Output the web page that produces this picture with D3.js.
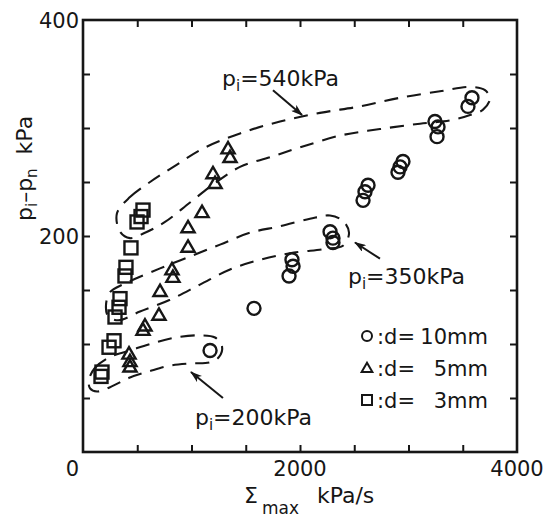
<!DOCTYPE html>
<html>
<head>
<meta charset="utf-8">
<script src="https://cdn.jsdelivr.net/npm/d3@7"></script>
<style>
  body { margin: 0; background: #fff; }
  text { font-family: "DejaVu Sans", sans-serif; fill: #161616; }
</style>
</head>
<body>
<div id="chart"></div>
<script>
// points: [Sigma_max kPa/s, pi-pn kPa]
var circles10 = [[1171, 94], [1576, 133], [1926, 178], [1936, 172], [1899, 163],
  [2277, 204], [2304, 198], [2304, 194], [2627, 247], [2599, 241], [2581, 233],
  [2949, 269], [2922, 264], [2903, 259], [3244, 306], [3272, 301], [3263, 292],
  [3585, 328], [3548, 320]];
var triangles5 = [[1337, 280], [1355, 272], [1198, 257], [1217, 248], [1097, 221],
  [968, 207], [968, 189], [820, 168], [829, 161], [710, 148], [700, 126],
  [571, 116], [553, 112], [424, 90], [433, 83], [433, 78]];
var squares3 = [[553, 224], [535, 218], [498, 213], [442, 189], [396, 171],
  [387, 163], [341, 142], [332, 134], [295, 125], [286, 103], [240, 97],
  [175, 74], [166, 70]];

// dashed envelopes (closed loops)
var env540 = [[313, 221], [433, 236], [618, 250], [848, 265], [1106, 281], [1447, 295],
  [1816, 306], [2184, 314], [2553, 320], [2922, 328], [3290, 334], [3567, 338],
  [3705, 335], [3751, 327], [3687, 317], [3567, 312], [3383, 307], [3106, 304],
  [2737, 299], [2369, 293], [2000, 282], [1724, 273], [1447, 264], [1217, 249],
  [986, 231], [756, 213], [571, 203], [433, 198], [341, 204]];
var env350 = [[212, 136], [249, 148], [387, 156], [710, 170], [986, 181], [1263, 192],
  [1539, 203], [1816, 209], [2092, 216], [2277, 219], [2396, 214], [2452, 203],
  [2396, 191], [2230, 188], [1908, 184], [1631, 178], [1355, 169], [1078, 155],
  [802, 141], [525, 130], [323, 122], [230, 126]];
var env200 = [[55, 67], [111, 78], [249, 88], [433, 94], [618, 100], [848, 106],
  [1078, 108], [1217, 106], [1281, 98], [1254, 88], [1171, 83], [986, 82],
  [802, 80], [618, 75], [433, 69], [249, 60], [129, 56], [65, 59]];

// labels with arrows: text position, arrow start, arrow tip
var pLabels = ["540kPa", "350kPa", "200kPa"];
var pLabelPos = [[1281, 339], [2442, 156], [1032, 25]];
var arrowFrom = [[1751, 335], [2737, 179], [1290, 50]];
var arrowTo = [[2019, 312], [2507, 194], [995, 74]];

var xTickLabels = [0, 2000, 4000];
var yTickLabels = [200, 400];
var legendNames = ["10mm", "5mm", "3mm"];

var W = 549, H = 517;
var svg = d3.select("#chart").append("svg")
    .attr("width", W)
    .attr("height", H);

var x = d3.scaleLinear().domain([0, 4000]).range([83, 517]);
var y = d3.scaleLinear().domain([0, 400]).range([452, 20]);
var ink = "#161616";

// inward ticks on all four sides
function tickAxis(axis, tr) {
    var g = svg.append("g").attr("transform", tr).call(axis);
    g.select(".domain").remove();
    g.selectAll("line").attr("stroke", ink).attr("stroke-width", 2);
    g.selectAll("text").remove();
}
var xt = d3.range(500, 4000, 500), yt = d3.range(50, 400, 50);
tickAxis(d3.axisBottom(x).tickValues(xt).tickSize(-7), "translate(0,452)");
tickAxis(d3.axisTop(x).tickValues(xt).tickSize(-7), "translate(0,20)");
tickAxis(d3.axisLeft(y).tickValues(yt).tickSize(-7), "translate(83,0)");
tickAxis(d3.axisRight(y).tickValues(yt).tickSize(-7), "translate(517,0)");

svg.append("rect")
    .attr("x", x(0)).attr("y", y(400))
    .attr("width", x(4000) - x(0)).attr("height", y(0) - y(400))
    .attr("fill", "none").attr("stroke", ink).attr("stroke-width", 2.6);

// tick labels
svg.selectAll(".xl").data(xTickLabels).enter().append("text")
    .attr("x", function (d) { return d === 0 ? x(d) - 4 : x(d); })
    .attr("y", 476)
    .attr("text-anchor", function (d) { return d === 0 ? "end" : "middle"; })
    .style("font-size", "21px")
    .text(function (d) { return d; });
svg.selectAll(".yl").data(yTickLabels).enter().append("text")
    .attr("x", 79)
    .attr("y", function (d) { return y(d) + 8; })
    .attr("text-anchor", "end")
    .style("font-size", "21px")
    .text(function (d) { return d; });

// axis titles
var xt1 = svg.append("text").attr("x", 244).attr("y", 503).style("font-size", "22px");
xt1.append("tspan").text("\u03A3");
xt1.append("tspan").attr("dy", 11).attr("dx", 4).style("font-size", "17px").text("max");
xt1.append("tspan").attr("dy", -11).attr("dx", 18).text("kPa/s");

var yt1 = svg.append("text")
    .attr("transform", "translate(32,221) rotate(-90)")
    .style("font-size", "22px");
yt1.append("tspan").text("p");
yt1.append("tspan").attr("dy", 5).style("font-size", "15px").text("i");
yt1.append("tspan").attr("dy", -5).text("\u2013p");
yt1.append("tspan").attr("dy", 5).style("font-size", "15px").text("n");
yt1.append("tspan").attr("dy", -5).attr("dx", 14).text("kPa");

// dashed envelopes
var loop = d3.line()
    .x(function (d) { return x(d[0]); })
    .y(function (d) { return y(d[1]); })
    .curve(d3.curveCatmullRomClosed.alpha(0.5));
svg.selectAll(".env").data([env540, env350, env200]).enter().append("path")
    .attr("d", loop)
    .attr("fill", "none")
    .attr("stroke", ink)
    .attr("stroke-width", 2.1)
    .attr("stroke-dasharray", "14,9");

// markers
var mk = svg.append("g").attr("fill", "none").attr("stroke", ink).attr("stroke-width", 2.4);
mk.selectAll(".c").data(circles10).enter().append("circle")
    .attr("cx", function (d) { return x(d[0]); })
    .attr("cy", function (d) { return y(d[1]); })
    .attr("r", 6.5);
var triSym = d3.symbol().type(d3.symbolTriangle).size(75);
mk.selectAll(".t").data(triangles5).enter().append("path")
    .attr("d", triSym)
    .attr("transform", function (d) { return "translate(" + x(d[0]) + "," + y(d[1]) + ")"; });
mk.selectAll(".s").data(squares3).enter().append("rect")
    .attr("x", function (d) { return x(d[0]) - 6.5; })
    .attr("y", function (d) { return y(d[1]) - 6.5; })
    .attr("width", 13).attr("height", 13);

// arrows and pressure labels
svg.append("defs").append("marker")
    .attr("id", "ah")
    .attr("viewBox", "0 0 12 8")
    .attr("refX", 11).attr("refY", 4)
    .attr("markerWidth", 12).attr("markerHeight", 8)
    .attr("markerUnits", "userSpaceOnUse")
    .attr("orient", "auto")
    .append("path")
    .attr("d", "M0,0 L12,4 L0,8 L3,4 Z")
    .attr("fill", ink);
arrowFrom.forEach(function (a, i) {
    svg.append("line")
        .attr("x1", x(a[0])).attr("y1", y(a[1]))
        .attr("x2", x(arrowTo[i][0])).attr("y2", y(arrowTo[i][1]))
        .attr("stroke", ink).attr("stroke-width", 2)
        .attr("marker-end", "url(#ah)");
});
pLabels.forEach(function (t, i) {
    var tx = svg.append("text")
        .attr("x", x(pLabelPos[i][0]))
        .attr("y", y(pLabelPos[i][1]))
        .style("font-size", "22px");
    tx.append("tspan").text("p");
    tx.append("tspan").attr("dy", 5).style("font-size", "15px").text("i");
    tx.append("tspan").attr("dy", -5).text("=" + t);
});

// legend
var legY = [336, 368, 400];
var lg = svg.append("g");
lg.append("circle").attr("cx", 367).attr("cy", legY[0]).attr("r", 5)
    .attr("fill", "none").attr("stroke", ink).attr("stroke-width", 2);
lg.append("path").attr("d", d3.symbol().type(d3.symbolTriangle).size(50))
    .attr("transform", "translate(367," + (legY[1] + 1) + ")")
    .attr("fill", "none").attr("stroke", ink).attr("stroke-width", 2);
lg.append("rect").attr("x", 362).attr("y", legY[2] - 5).attr("width", 10).attr("height", 10)
    .attr("fill", "none").attr("stroke", ink).attr("stroke-width", 2);
legendNames.forEach(function (n, i) {
    lg.append("text").attr("x", 377).attr("y", legY[i] + 8)
        .style("font-size", "21px").text(":d=");
    lg.append("text").attr("x", 488).attr("y", legY[i] + 8)
        .attr("text-anchor", "end")
        .style("font-size", "21px").text(n);
});
</script>
</body>
</html>
